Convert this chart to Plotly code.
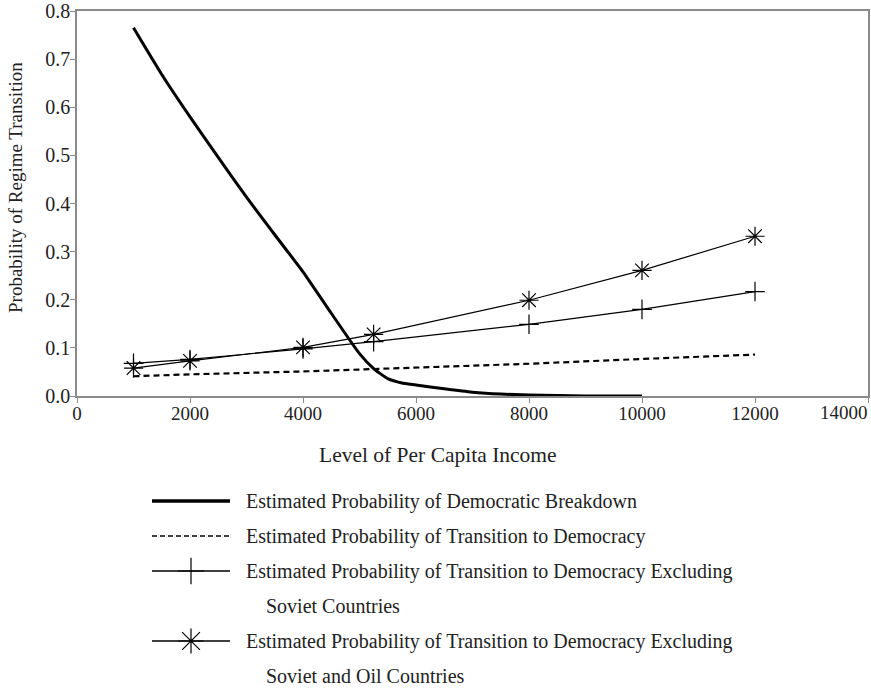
import plotly.graph_objects as go

# ---- data ----
breakdown_income = [1000, 1500, 2000, 2500, 3000, 3500, 4000, 4500, 5000, 5250,
                    5500, 5750, 6000, 6500, 7000, 7500, 8000, 9000, 10000]
breakdown_prob = [0.765, 0.668, 0.580, 0.496, 0.413, 0.335, 0.258, 0.172, 0.088, 0.057,
                  0.036, 0.027, 0.023, 0.015, 0.008, 0.004, 0.002, 0.0, 0.0]

transition_income = [1000, 2000, 4000, 6000, 8000, 10000, 12000]
transition_prob = [0.041, 0.045, 0.051, 0.059, 0.067, 0.077, 0.086]

marker_income = [1000, 2000, 4000, 5250, 8000, 10000, 12000]
excl_soviet_prob = [0.068, 0.076, 0.098, 0.113, 0.149, 0.180, 0.217]
excl_soviet_oil_prob = [0.058, 0.073, 0.101, 0.128, 0.199, 0.261, 0.332]

x_ticks = [0, 2000, 4000, 6000, 8000, 10000, 12000, 14000]
y_ticks = [0.0, 0.1, 0.2, 0.3, 0.4, 0.5, 0.6, 0.7, 0.8]

legend_lines = [
    ["Estimated Probability of Democratic Breakdown"],
    ["Estimated Probability of Transition to Democracy"],
    ["Estimated Probability of Transition to Democracy Excluding", "Soviet Countries"],
    ["Estimated Probability of Transition to Democracy Excluding", "Soviet and Oil Countries"],
]

FONT = "Liberation Serif"
TEXT = "#222"
W, H = 871, 688
ML, MR, MT, MB = 77, 3, 11, 0
PLOT_BOTTOM = 396  # pixel row of the x axis
plot_w = W - ML - MR
plot_h = H - MT - MB


def px_paper(px, py):
    """pixel position in the page -> paper coordinates"""
    return (px - ML) / plot_w, (H - MB - py) / plot_h


fig = go.Figure()

styles = [
    dict(line=dict(color="black", width=3, shape="spline", smoothing=0.5), mode="lines", marker=None),
    dict(line=dict(color="black", width=2.2, dash="6px,4px"), mode="lines", marker=None),
    dict(line=dict(color="black", width=1.2), mode="lines+markers",
         marker=dict(symbol="cross-thin-open", size=14, color="black",
                     line=dict(color="black", width=1.2))),
    dict(line=dict(color="black", width=1.2), mode="lines+markers",
         marker=dict(symbol="asterisk-open", size=16, color="black",
                     line=dict(color="black", width=1.2))),
]

series = [
    (breakdown_income, breakdown_prob),
    (transition_income, transition_prob),
    (marker_income, excl_soviet_prob),
    (marker_income, excl_soviet_oil_prob),
]

for (xs, ys), st in zip(series, styles):
    kw = dict(x=xs, y=ys, mode=st["mode"], line=st["line"], showlegend=False,
              hoverinfo="skip")
    if st["marker"]:
        kw["marker"] = st["marker"]
    fig.add_trace(go.Scatter(**kw))

# ---- hand-drawn legend on a second, hidden axis pair measured in pixels ----
row_y = [501, 536, 571, 641]
line_gap = 35
sample_x0, sample_x1 = 152, 230
text_x, indent_x = 244, 264
for (lines, st, py) in zip(legend_lines, styles, row_y):
    yv = H - py
    dashed = st["line"].get("dash") is not None
    fig.add_trace(go.Scatter(
        x=[sample_x0 - ML, sample_x1 - ML], y=[yv, yv], mode="lines",
        line=dict(color="black", width=1.6 if dashed else st["line"]["width"] + 0.4,
                  dash="5px,3px" if dashed else None),
        xaxis="x2", yaxis="y2", showlegend=False, hoverinfo="skip"))
    if st["marker"]:
        m = dict(st["marker"])
        m["size"] = m["size"] + 5
        fig.add_trace(go.Scatter(
            x=[(sample_x0 + sample_x1) / 2 - ML], y=[yv], mode="markers", marker=m,
            xaxis="x2", yaxis="y2", showlegend=False, hoverinfo="skip"))
    for i, txt in enumerate(lines):
        fig.add_annotation(x=(text_x if i == 0 else indent_x) - ML, y=yv - i * line_gap,
                           xref="x2", yref="y2", text=txt, showarrow=False,
                           xanchor="left", yanchor="middle",
                           font=dict(family=FONT, size=20, color=TEXT))

# axis titles (placed off-centre as in the original)
xt, yt = px_paper(438, 455)
fig.add_annotation(x=xt, y=yt, xref="paper", yref="paper",
                   text="Level of Per Capita Income", showarrow=False,
                   xanchor="center", yanchor="middle",
                   font=dict(family=FONT, size=21.5, color=TEXT))
xt, yt = px_paper(16, 188)
fig.add_annotation(x=xt, y=yt, xref="paper", yref="paper",
                   text="Probability of Regime Transition", showarrow=False, textangle=-90,
                   xanchor="center", yanchor="middle",
                   font=dict(family=FONT, size=19, color=TEXT))
# last x tick label is pulled inside the figure edge, as in the original
fig.add_annotation(x=x_ticks[-1], y=0, xref="x", yref="y", text=str(x_ticks[-1]),
                   showarrow=False, xanchor="right", yanchor="top", xshift=2, yshift=-4,
                   font=dict(family=FONT, size=19, color=TEXT))

y_domain_bottom = (H - PLOT_BOTTOM - MB) / plot_h

fig.update_layout(
    width=W, height=H, autosize=False,
    margin=dict(l=ML, r=MR, t=MT, b=MB),
    paper_bgcolor="white", plot_bgcolor="rgba(0,0,0,0)",
    font=dict(family=FONT, size=19, color=TEXT),
    xaxis=dict(range=[0, 14000], tickvals=x_ticks,
               ticktext=[str(v) for v in x_ticks[:-1]] + [""],
               showgrid=False, zeroline=False, showline=True, mirror=True,
               linecolor="#8a8a8a", linewidth=1.5, ticks="outside", ticklen=5,
               tickcolor="#8a8a8a", tickfont=dict(size=19), automargin=False,
               ticklabelstandoff=-6, anchor="y"),
    yaxis=dict(range=[0, 0.8], tickvals=y_ticks, tickformat=".1f",
               domain=[y_domain_bottom, 1], anchor="x",
               showgrid=False, zeroline=False, showline=True, mirror=True,
               linecolor="#8a8a8a", linewidth=1.5, ticks="outside", ticklen=5,
               tickcolor="#8a8a8a", tickfont=dict(size=20), automargin=False,
               ticklabelstandoff=-4),
    xaxis2=dict(range=[0, plot_w], domain=[0, 1], visible=False, anchor="y2"),
    yaxis2=dict(range=[0, plot_h], domain=[0, 1], visible=False, anchor="x2"),
)

fig.write_html("out.html", config={"displayModeBar": False},
               post_script="document.body.style.margin = '0';")
